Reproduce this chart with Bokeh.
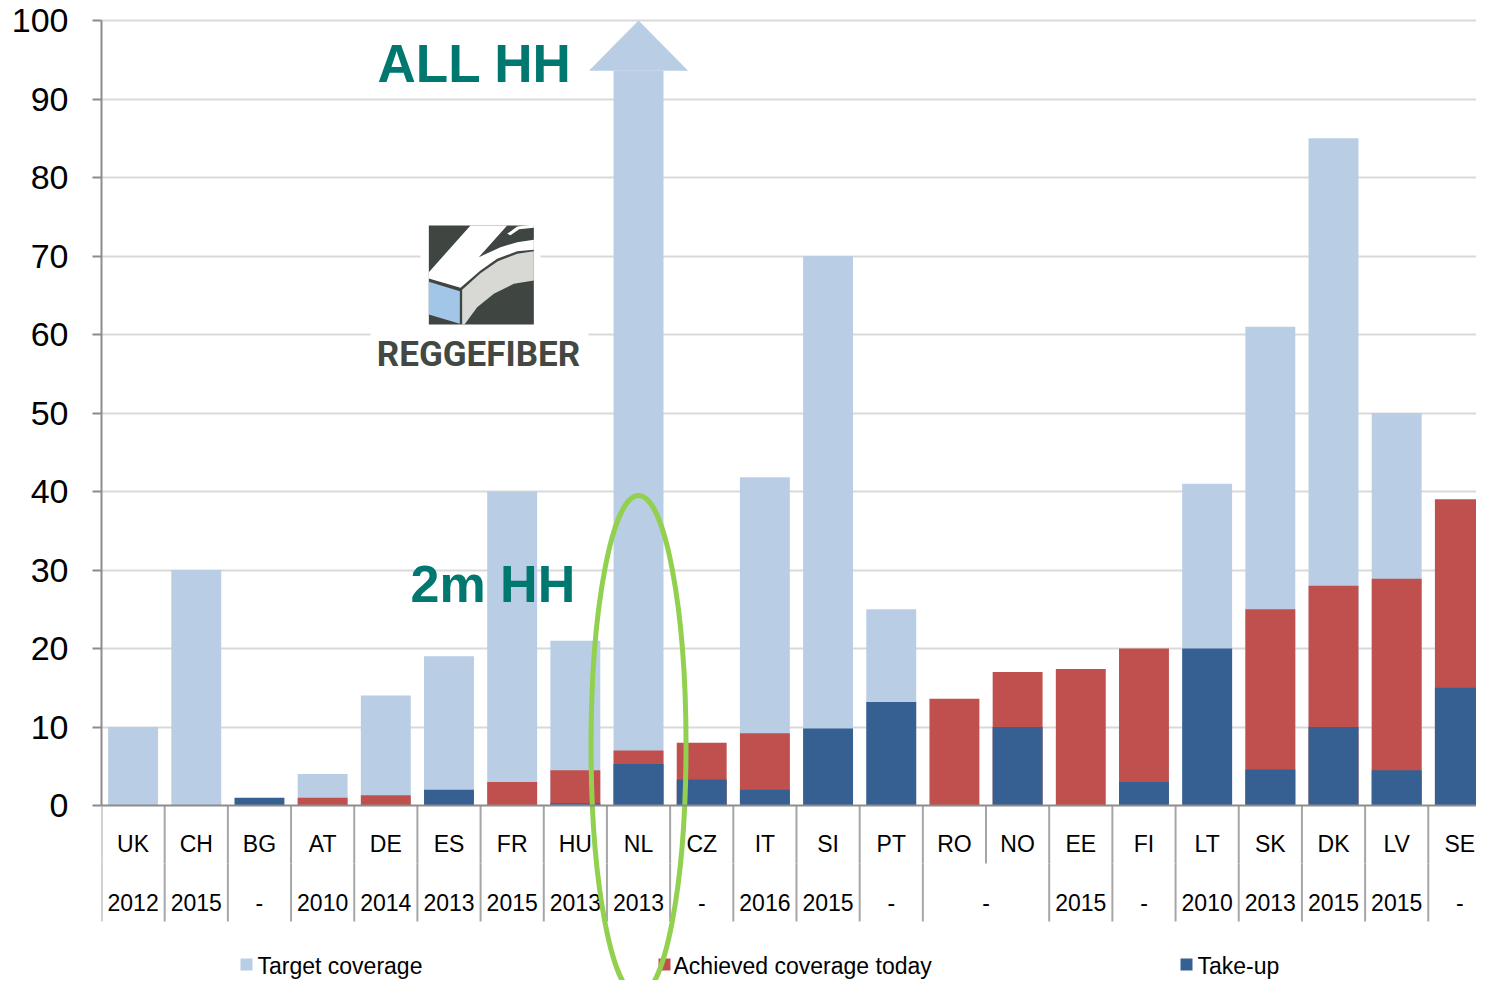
from bokeh.plotting import figure
from bokeh.models import Range1d, FixedTicker, Span
from bokeh.core.properties import value
from bokeh.embed import file_html
from bokeh.resources import INLINE

# ---------------- data ----------------
countries = ["UK", "CH", "BG", "AT", "DE", "ES", "FR", "HU", "NL", "CZ", "IT",
             "SI", "PT", "RO", "NO", "EE", "FI", "LT", "SK", "DK", "LV", "SE"]
# year row: (label, number of countries the cell spans)
year_cells = [("2012", 1), ("2015", 1), ("-", 1), ("2010", 1), ("2014", 1),
              ("2013", 1), ("2015", 1), ("2013", 1), ("2013", 1), ("-", 1),
              ("2016", 1), ("2015", 1), ("-", 1), ("-", 2), ("2015", 1),
              ("-", 1), ("2010", 1), ("2013", 1), ("2015", 1), ("2015", 1), ("-", 1)]
target = [10, 30, 0, 4, 14, 19, 40, 21, 100, 0, 41.8, 70, 25, 0, 0, 0, 0, 41, 61, 85, 50, 0]
achieved = [0, 0, 0, 1, 1.3, 0, 3, 4.5, 7, 8, 9.2, 0, 0, 13.6, 17, 17.4, 20, 0, 25, 28, 28.9, 39]
takeup = [0, 0, 1, 0, 0, 2, 0, 0.3, 5.3, 3.3, 2, 9.8, 13.2, 0, 10, 0, 3, 20, 4.6, 10, 4.5, 15]
series_names = ["Target coverage", "Achieved coverage today", "Take-up"]
y_ticks = list(range(0, 101, 10))
note_all = "ALL HH"
note_2m = "2m HH"
logo_text = "REGGEFIBER"

# ---------------- style ----------------
C_TARGET = "#B9CDE5"
C_ACH = "#C0504D"
C_TAKE = "#376092"
TEAL = "#00786F"
GREEN = "#92D050"
AXIS = "#8C8C8C"
GRID = "#D9D9D9"
FONT = "Liberation Sans"

W, H = 1476, 980
LEFT = 101                # figure px where the plot frame starts
PX_CAT = 63.18            # px per category
PX_UNIT = 7.85            # px per percentage point
ZERO_PX = 805             # figure px of value 0 from top

def rx(xp):   # pixel x -> data x
    return (xp - LEFT) / PX_CAT

def ry(yp):   # pixel y -> data y
    return (ZERO_PX - yp) / PX_UNIT

x_end = (W - LEFT) / PX_CAT
y_top = ZERO_PX / PX_UNIT
y_bot = -(H - ZERO_PX) / PX_UNIT

p = figure(width=W, height=H, x_range=Range1d(0, x_end), y_range=Range1d(y_bot, y_top),
           output_backend="svg", toolbar_location=None, x_axis_location=None,
           min_border_left=LEFT, min_border_right=0, min_border_top=0, min_border_bottom=0)
p.outline_line_color = None
p.background_fill_color = "white"

ya = p.yaxis[0]
ya.ticker = FixedTicker(ticks=y_ticks)
ya.bounds = (0, 100)
ya.axis_line_color = AXIS
ya.axis_line_width = 2
ya.major_tick_line_color = AXIS
ya.major_tick_line_width = 2
ya.major_tick_out = 9
ya.major_tick_in = 0
ya.minor_tick_line_color = None
ya.major_label_text_font = FONT
ya.major_label_text_font_size = "34px"
ya.major_label_text_color = "black"
ya.major_label_standoff = 24

p.xgrid.visible = False
p.ygrid.ticker = FixedTicker(ticks=y_ticks[1:])
p.ygrid.grid_line_color = GRID
p.ygrid.grid_line_width = 2

n = len(countries)
pos = [i + 0.5 for i in range(n)]
BAR_W = 0.79
HEAD_LEN = 6.4
HEAD_W = 1.57

# target bars (arrow for "all households")
t_idx = [i for i in range(n) if target[i] > 0]
t_top = [target[i] - HEAD_LEN if target[i] >= 100 else target[i] for i in t_idx]
p.vbar(x=[pos[i] for i in t_idx], top=t_top, bottom=0, width=BAR_W,
       fill_color=C_TARGET, line_color=None)
arrow_idx = [i for i in range(n) if target[i] >= 100]
p.patches(xs=[[pos[i] - HEAD_W / 2, pos[i], pos[i] + HEAD_W / 2] for i in arrow_idx],
          ys=[[target[i] - HEAD_LEN, target[i], target[i] - HEAD_LEN] for i in arrow_idx],
          fill_color=C_TARGET, line_color=None)

a_idx = [i for i in range(n) if achieved[i] > 0]
p.vbar(x=[pos[i] for i in a_idx], top=[achieved[i] for i in a_idx], bottom=0, width=BAR_W,
       fill_color=C_ACH, line_color=None)
k_idx = [i for i in range(n) if takeup[i] > 0]
p.vbar(x=[pos[i] for i in k_idx], top=[takeup[i] for i in k_idx], bottom=0, width=BAR_W,
       fill_color=C_TAKE, line_color=None)

# x axis line
p.add_layout(Span(location=0, dimension="width", line_color=AXIS, line_width=2))

# category separators
ROW_MID = ry(863)
ROW_BOT = ry(921)
p.segment(x0=list(range(n)), y0=[0] * n, x1=list(range(n)), y1=[ROW_MID] * n,
          line_color="#A6A6A6", line_width=2)
bounds = [0]
for _, s in year_cells:
    bounds.append(bounds[-1] + s)
yb = bounds[:-1]
p.segment(x0=yb, y0=[ROW_MID] * len(yb), x1=yb, y1=[ROW_BOT] * len(yb),
          line_color="#A6A6A6", line_width=2)

p.text(x=pos, y=[ry(843)] * n, text=countries, text_font=value(FONT),
       text_font_size="23px", text_align="center", text_baseline="middle", text_color="black")
p.text(x=[(bounds[j] + bounds[j + 1]) / 2 for j in range(len(year_cells))],
       y=[ry(902)] * len(year_cells), text=[c for c, _ in year_cells], text_font=value(FONT),
       text_font_size="23px", text_align="center", text_baseline="middle", text_color="black")

# legend (manual, bottom row)
leg_sq = [246, 664, 1186]
leg_tx = [257, 673, 1197]
LEG_Y = 965
p.rect(x=[rx(v) for v in leg_sq], y=[ry(LEG_Y - 1)] * 3, width=12, height=12,
       width_units="screen", height_units="screen",
       fill_color=[C_TARGET, C_ACH, C_TAKE], line_color=None)
p.text(x=[rx(v) for v in leg_tx], y=[ry(LEG_Y)] * 3, text=series_names, text_font=value(FONT),
       text_font_size="23px", text_align="left", text_baseline="middle", text_color="black")

# logo (decoration)
p.quad(left=[rx(420), rx(370)], right=[rx(540), rx(588)], top=[ry(212), ry(330)],
       bottom=[ry(332), ry(384)], fill_color="white", line_color=None)

def lz(pts):
    return [rx(360 + a / 3) for a, b in pts], [ry(200 + b / 3) for a, b in pts]

shapes = [
    ([(205, 75), (520, 75), (520, 372), (205, 372)], "#3F4541"),
    ([(330, 75), (440, 75), (355, 170), (420, 140), (470, 125), (520, 118), (520, 148),
      (470, 152), (410, 175), (360, 210), (300, 262), (205, 234), (205, 215)], "white"),
    ([(305, 268), (360, 218), (412, 182), (470, 160), (520, 152), (520, 240), (460, 250),
      (400, 280), (350, 320), (312, 372), (305, 372)], "#D8D9D4"),
    ([(205, 244), (298, 272), (298, 370), (205, 342)], "#A2C6E8"),
    ([(440, 100), (470, 78), (520, 72), (520, 82), (476, 86), (450, 104)], "white"),
]
for pts, col in shapes:
    xs, ys = lz(pts)
    p.patch(xs, ys, fill_color=col, line_color=None)
p.text(x=[rx(478)], y=[ry(354)], text=[logo_text], text_font=value("Roboto"),
       text_font_style="bold", text_font_size="35px", text_align="center",
       text_baseline="middle", text_color="#434843")

# annotations
p.text(x=[rx(377)], y=[ry(63)], text=[note_all], text_font=value(FONT), text_font_style="bold",
       text_font_size="53px", text_align="left", text_baseline="middle", text_color=TEAL)
p.text(x=[rx(410)], y=[ry(583)], text=[note_2m], text_font=value(FONT), text_font_style="bold",
       text_font_size="52px", text_align="left", text_baseline="middle", text_color=TEAL)

nl = countries.index("NL")
p.ellipse(x=[pos[nl]], y=[ry(745)], width=[95 / PX_CAT], height=[500 / PX_UNIT],
          fill_color=None, line_color=GREEN, line_width=5)

open("out.html", "w").write(file_html(p, INLINE))
